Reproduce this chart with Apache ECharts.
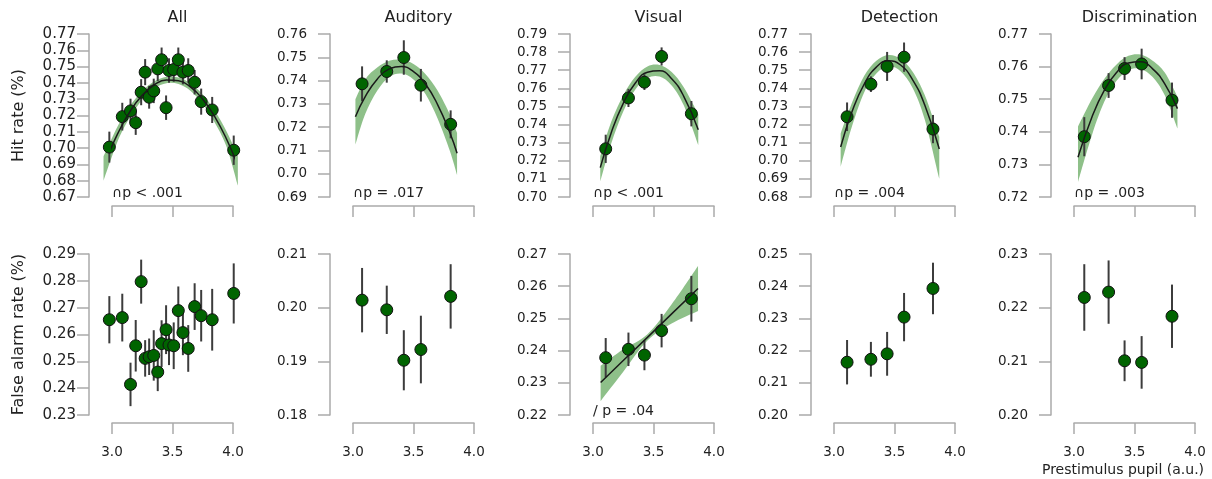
<!DOCTYPE html>
<html><head><meta charset="utf-8">
<script src="https://cdn.jsdelivr.net/npm/echarts@6/dist/echarts.min.js"></script>
<style>html,body{margin:0;padding:0;background:#fff}#c{width:1212px;height:479px}</style>
</head><body><div id="c"></div>
<script>
// ---------- categories / labels ----------
const panelTitles = ['All', 'Auditory', 'Visual', 'Detection', 'Discrimination'];
const rowNames = ['Hit rate (%)', 'False alarm rate (%)'];
const xLabel = 'Prestimulus pupil (a.u.)';
const hitAnnot = ['\u2229p < .001', '\u2229p = .017', '\u2229p < .001', '\u2229p = .004', '\u2229p = .003'];
const faAnnot = ['', '', '/ p = .04', '', ''];
const xMin = 3.0, xMax = 4.0, xStep = 0.5;
const hitMin = [0.67, 0.69, 0.70, 0.68, 0.72];
const hitMax = [0.77, 0.76, 0.79, 0.77, 0.77];
const faMin = [0.23, 0.18, 0.22, 0.20, 0.20];
const faMax = [0.29, 0.21, 0.27, 0.25, 0.23];

// ---------- All ----------
const pupilAll = [2.978, 3.085, 3.153, 3.196, 3.241, 3.274, 3.307, 3.345, 3.378, 3.41, 3.447, 3.471, 3.51, 3.548, 3.586, 3.63, 3.683, 3.737, 3.828, 4.006];
const hitAll = [0.7006, 0.7193, 0.7228, 0.7156, 0.7343, 0.7466, 0.7312, 0.7351, 0.7486, 0.7542, 0.7248, 0.7476, 0.7482, 0.7542, 0.7466, 0.7476, 0.7404, 0.7285, 0.7234, 0.6987];
const hitErrAll = [0.0095, 0.0085, 0.0075, 0.0075, 0.008, 0.008, 0.007, 0.0075, 0.0075, 0.0075, 0.0075, 0.0075, 0.0075, 0.0075, 0.0075, 0.0075, 0.0075, 0.008, 0.008, 0.009];
const faAll = [0.2655, 0.2663, 0.2414, 0.2558, 0.2797, 0.2511, 0.2517, 0.2522, 0.246, 0.2566, 0.2618, 0.2561, 0.2558, 0.2689, 0.2607, 0.2548, 0.2704, 0.267, 0.2655, 0.2753];
const faErrAll = [0.0088, 0.0089, 0.0081, 0.0096, 0.0082, 0.0068, 0.0068, 0.0094, 0.0071, 0.0087, 0.0091, 0.0075, 0.0087, 0.009, 0.0084, 0.0087, 0.0087, 0.0096, 0.0115, 0.0112];
const fitXAll = [2.93, 3.05, 3.15, 3.25, 3.35, 3.45, 3.55, 3.65, 3.75, 3.85, 3.95, 4.04];
const fitAll = [0.6888, 0.7093, 0.7226, 0.7324, 0.7388, 0.7418, 0.7413, 0.7374, 0.730, 0.7192, 0.705, 0.6892];
const bandLoAll = [0.680, 0.7048, 0.7191, 0.7297, 0.7366, 0.7398, 0.7393, 0.7351, 0.7271, 0.7155, 0.7002, 0.677];
const bandHiAll = [0.6948, 0.7138, 0.7261, 0.7351, 0.741, 0.7438, 0.7433, 0.7397, 0.7329, 0.7229, 0.7098, 0.6952];

// ---------- Auditory ----------
const pupilAud = [3.075, 3.279, 3.42, 3.561, 3.807];
const hitAud = [0.7386, 0.7439, 0.7499, 0.738, 0.7212];
const hitErrAud = [0.0075, 0.0048, 0.0074, 0.007, 0.006];
const faAud = [0.2014, 0.1996, 0.1902, 0.1922, 0.2021];
const faErrAud = [0.006, 0.0045, 0.0056, 0.0063, 0.006];
const fitXAud = [3.02, 3.1, 3.2, 3.3, 3.4, 3.5, 3.6, 3.7, 3.8, 3.86];
const fitAud = [0.7245, 0.733, 0.7406, 0.745, 0.746, 0.7438, 0.7384, 0.7296, 0.7177, 0.7088];
const bandLoAud = [0.7125, 0.7255, 0.7356, 0.7415, 0.743, 0.7405, 0.7341, 0.7236, 0.7099, 0.6995];
const bandHiAud = [0.732, 0.7405, 0.7456, 0.7485, 0.749, 0.7471, 0.7427, 0.7356, 0.7255, 0.7175];

// ---------- Visual ----------
const pupilVis = [3.105, 3.293, 3.425, 3.567, 3.813];
const hitVis = [0.7266, 0.7547, 0.7634, 0.7776, 0.746];
const hitErrVis = [0.0078, 0.005, 0.0043, 0.005, 0.007];
const faVis = [0.2378, 0.2404, 0.2386, 0.2462, 0.2561];
const faErrVis = [0.0061, 0.0052, 0.0047, 0.0052, 0.0071];
const fitXVis = [3.06, 3.15, 3.25, 3.35, 3.45, 3.55, 3.65, 3.75, 3.87];
const fitVis = [0.7162, 0.7354, 0.7517, 0.7629, 0.7689, 0.7697, 0.7653, 0.7556, 0.7372];
const bandLoVis = [0.7085, 0.7294, 0.7472, 0.7594, 0.7657, 0.7665, 0.7616, 0.7506, 0.7287];
const bandHiVis = [0.7225, 0.7414, 0.7562, 0.7664, 0.7721, 0.7729, 0.769, 0.7606, 0.7457];
const faFitXVis = [3.063, 3.25, 3.45, 3.65, 3.868];
const faFitVis = [0.2301, 0.2369, 0.2441, 0.2514, 0.2593];
const faBandLoVis = [0.2243, 0.2334, 0.2431, 0.2484, 0.2523];
const faBandHiVis = [0.2353, 0.2404, 0.2451, 0.2544, 0.2663];

// ---------- Detection ----------
const pupilDet = [3.108, 3.305, 3.439, 3.579, 3.818];
const hitDet = [0.7243, 0.7423, 0.7521, 0.7572, 0.7175];
const hitErrDet = [0.0079, 0.0043, 0.008, 0.0081, 0.0078];
const faDet = [0.2164, 0.2173, 0.219, 0.2304, 0.2393];
const faErrDet = [0.0069, 0.0054, 0.0068, 0.0075, 0.008];
const fitXDet = [3.055, 3.15, 3.25, 3.35, 3.45, 3.55, 3.65, 3.75, 3.87];
const fitDet = [0.7076, 0.7273, 0.7424, 0.7517, 0.7552, 0.7529, 0.7447, 0.7308, 0.7065];
const bandLoDet = [0.6966, 0.7193, 0.7379, 0.7482, 0.752, 0.7495, 0.7402, 0.7228, 0.6901];
const bandHiDet = [0.7151, 0.7323, 0.7469, 0.7552, 0.7584, 0.7563, 0.7492, 0.7363, 0.7133];

// ---------- Discrimination ----------
const pupilDis = [3.085, 3.286, 3.418, 3.559, 3.81];
const hitDis = [0.7385, 0.7542, 0.7594, 0.7608, 0.7497];
const hitErrDis = [0.006, 0.0038, 0.0035, 0.0047, 0.0054];
const faDis = [0.2219, 0.2229, 0.2101, 0.2098, 0.2184];
const faErrDis = [0.0062, 0.0059, 0.0038, 0.0049, 0.0059];
const fitXDis = [3.033, 3.15, 3.25, 3.35, 3.45, 3.55, 3.65, 3.75, 3.855];
const fitDis = [0.7322, 0.7447, 0.7527, 0.7581, 0.7611, 0.7615, 0.7593, 0.7547, 0.7471];
const bandLoDis = [0.7246, 0.7392, 0.7492, 0.7556, 0.7589, 0.7593, 0.7568, 0.7512, 0.741];
const bandHiDis = [0.7416, 0.7502, 0.7562, 0.7606, 0.7633, 0.7637, 0.7618, 0.7582, 0.7508];

// ---------- assemble ----------
const panels = [
  {pupil: pupilAll, hit: hitAll, hitErr: hitErrAll, fa: faAll, faErr: faErrAll,
   hitFit: {x: fitXAll, y: fitAll, lo: bandLoAll, hi: bandHiAll}},
  {pupil: pupilAud, hit: hitAud, hitErr: hitErrAud, fa: faAud, faErr: faErrAud,
   hitFit: {x: fitXAud, y: fitAud, lo: bandLoAud, hi: bandHiAud}},
  {pupil: pupilVis, hit: hitVis, hitErr: hitErrVis, fa: faVis, faErr: faErrVis,
   hitFit: {x: fitXVis, y: fitVis, lo: bandLoVis, hi: bandHiVis},
   faFit: {x: faFitXVis, y: faFitVis, lo: faBandLoVis, hi: faBandHiVis, linear: true}},
  {pupil: pupilDet, hit: hitDet, hitErr: hitErrDet, fa: faDet, faErr: faErrDet,
   hitFit: {x: fitXDet, y: fitDet, lo: bandLoDet, hi: bandHiDet}},
  {pupil: pupilDis, hit: hitDis, hitErr: hitErrDis, fa: faDis, faErr: faErrDis,
   hitFit: {x: fitXDis, y: fitDis, lo: bandLoDis, hi: bandHiDis}}
];

const FONT = 'DejaVu Sans';
const AXIS_COLOR = '#aaaaaa';
const TEXT_COLOR = '#222';
const gridLefts = [112, 353, 593, 834, 1074];
const gridW = 121;
const rowTop = [34, 254], rowH = [163, 161], xOffset = [9, 8];

// smooth path through pixel points (Catmull-Rom as cubic Bezier), used only for drawing
function smoothSegs(pts) {
  let d = '';
  for (let i = 0; i < pts.length - 1; i++) {
    const p0 = pts[Math.max(i - 1, 0)], p1 = pts[i], p2 = pts[i + 1], p3 = pts[Math.min(i + 2, pts.length - 1)];
    const c1 = [p1[0] + (p2[0] - p0[0]) / 6, p1[1] + (p2[1] - p0[1]) / 6];
    const c2 = [p2[0] - (p3[0] - p1[0]) / 6, p2[1] - (p3[1] - p1[1]) / 6];
    d += ' C' + c1[0] + ' ' + c1[1] + ' ' + c2[0] + ' ' + c2[1] + ' ' + p2[0] + ' ' + p2[1];
  }
  return d;
}

const grids = [], xAxes = [], yAxes = [], series = [], titles = [];

panels.forEach(function (p, c) {
  titles.push({text: panelTitles[c], left: gridLefts[c] + gridW / 2, top: 5, textAlign: 'center',
    textStyle: {fontFamily: FONT, fontSize: 16, fontWeight: 'normal', color: TEXT_COLOR}});
  for (let r = 0; r < 2; r++) {
    const gi = grids.length;
    grids.push({left: gridLefts[c], top: rowTop[r], width: gridW, height: rowH[r], containLabel: false});
    xAxes.push({
      gridIndex: gi, type: 'value', min: xMin, max: xMax, interval: xStep,
      position: 'bottom', offset: xOffset[r],
      axisLine: {show: true, lineStyle: {color: AXIS_COLOR, width: 1.5}},
      axisTick: {show: true, length: 11, inside: false, lineStyle: {color: AXIS_COLOR, width: 1.5}},
      axisLabel: {show: r === 1, margin: 22, fontFamily: FONT, fontSize: 13.5, color: TEXT_COLOR,
        formatter: function (v) { return v.toFixed(1); }},
      splitLine: {show: false}
    });
    const ymin = r === 0 ? hitMin[c] : faMin[c];
    const ymax = r === 0 ? hitMax[c] : faMax[c];
    yAxes.push({
      gridIndex: gi, type: 'value', min: ymin, max: ymax, interval: 0.01,
      position: 'left', offset: 23,
      name: c === 0 ? rowNames[r] : '', nameLocation: 'middle', nameGap: 62,
      nameTextStyle: {fontFamily: FONT, fontSize: 16, color: TEXT_COLOR},
      axisLine: {show: true, lineStyle: {color: AXIS_COLOR, width: 1.5}},
      axisTick: {show: true, length: 12, inside: false, lineStyle: {color: AXIS_COLOR, width: 1.5}},
      axisLabel: {show: true, margin: c === 0 ? 13 : 23, fontFamily: FONT, fontSize: c === 0 ? 15 : 13.5, color: TEXT_COLOR,
        formatter: function (v) { return v.toFixed(2); }},
      splitLine: {show: false}
    });

    const fit = r === 0 ? p.hitFit : p.faFit;
    if (fit) {
      // confidence band: one filled shape between lower and upper bound arrays
      series.push({
        type: 'custom', xAxisIndex: gi, yAxisIndex: gi, clip: false, silent: true,
        encode: {x: 0, y: [1, 2]},
        data: fit.x.map(function (x, k) { return [x, fit.lo[k], fit.hi[k]]; }),
        renderItem: (function (f) {
          return function (params, api) {
            if (params.dataIndex !== 0) return null;
            const lo = f.x.map(function (x, k) { return api.coord([x, f.lo[k]]); });
            const hi = f.x.map(function (x, k) { return api.coord([x, f.hi[k]]); }).reverse();
            let d = 'M' + lo[0][0] + ' ' + lo[0][1] + smoothSegs(lo);
            d += ' L' + hi[0][0] + ' ' + hi[0][1] + smoothSegs(hi) + ' Z';
            return {type: 'path', shape: {pathData: d}, style: {fill: 'rgba(50,140,40,0.55)', stroke: null}};
          };
        })(fit)
      });
      series.push({
        type: 'line', xAxisIndex: gi, yAxisIndex: gi, clip: false, silent: true,
        smooth: !fit.linear, symbol: 'none', lineStyle: {color: '#1a1a1a', width: 1.5},
        data: fit.x.map(function (x, k) { return [x, fit.y[k]]; })
      });
    }
    const vals = r === 0 ? p.hit : p.fa;
    const errs = r === 0 ? p.hitErr : p.faErr;
    series.push({
      type: 'custom', xAxisIndex: gi, yAxisIndex: gi, clip: false, silent: true,
      encode: {x: 0, y: 1},
      data: p.pupil.map(function (x, k) { return [x, vals[k], errs[k]]; }),
      renderItem: function (params, api) {
        const x = api.value(0), y = api.value(1), e = api.value(2);
        const a = api.coord([x, y - e]), b = api.coord([x, y + e]);
        return {type: 'line', shape: {x1: a[0], y1: a[1], x2: b[0], y2: b[1]},
          style: {stroke: '#3c3c3c', lineWidth: 2}};
      }
    });
    series.push({
      type: 'scatter', xAxisIndex: gi, yAxisIndex: gi, clip: false, silent: true,
      symbol: 'circle', symbolSize: 12,
      itemStyle: {color: '#006400', borderColor: '#111', borderWidth: 1, opacity: 1},
      data: p.pupil.map(function (x, k) { return [x, vals[k]]; })
    });
  }
});

const chart = echarts.init(document.getElementById('c'), null, {renderer: 'canvas'});
chart.setOption({
  animation: false,
  backgroundColor: '#fff',
  title: titles,
  grid: grids, xAxis: xAxes, yAxis: yAxes, series: series
});

// annotations anchored at (3.0, ymin) of each panel, plus shared x label
const graphics = [];
panels.forEach(function (p, c) {
  [hitAnnot[c], faAnnot[c]].forEach(function (txt, r) {
    if (!txt) return;
    const gi = c * 2 + r;
    const ymin = r === 0 ? hitMin[c] : faMin[c];
    const pt = chart.convertToPixel({gridIndex: gi}, [xMin, ymin]);
    graphics.push({type: 'text', x: pt[0], y: pt[1] + 3, silent: true,
      style: {text: txt, fontFamily: FONT, fontSize: 14, fill: TEXT_COLOR,
        textAlign: 'left', textVerticalAlign: 'bottom', align: 'left', verticalAlign: 'bottom'}});
  });
});
graphics.push({type: 'text', x: 1123, y: 470, silent: true,
  style: {text: xLabel, fontFamily: FONT, fontSize: 14, fill: TEXT_COLOR,
    textAlign: 'center', textVerticalAlign: 'middle', align: 'center', verticalAlign: 'middle'}});
chart.setOption({graphic: graphics});
</script>
</body></html>
